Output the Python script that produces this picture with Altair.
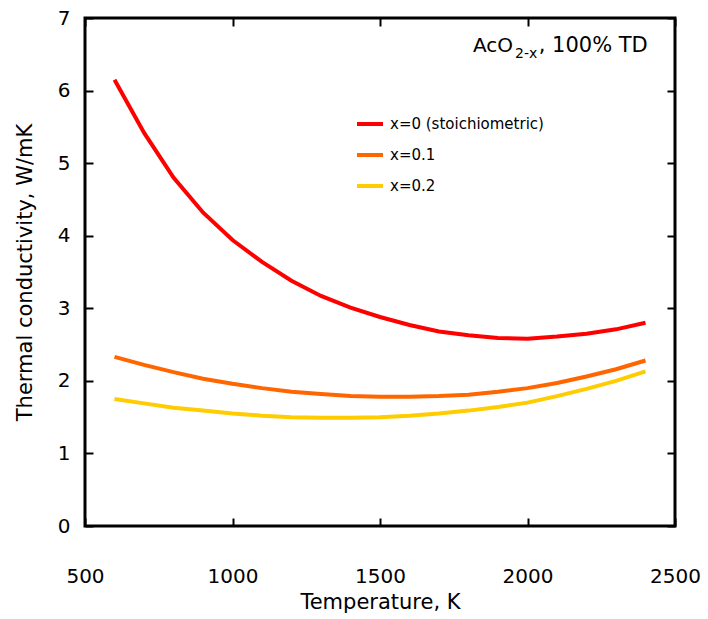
import altair as alt
import pandas as pd

# ---- data ----
temps = [600, 700, 800, 900, 1000, 1100, 1200, 1300, 1400, 1500,
         1600, 1700, 1800, 1900, 2000, 2100, 2200, 2300, 2400]
k_x0 = [6.15, 5.42, 4.80, 4.32, 3.94, 3.64, 3.38, 3.17, 3.01, 2.88,
        2.77, 2.68, 2.63, 2.59, 2.58, 2.61, 2.65, 2.71, 2.80]
k_x01 = [2.33, 2.22, 2.12, 2.03, 1.96, 1.90, 1.85, 1.82, 1.79, 1.78,
         1.78, 1.79, 1.81, 1.85, 1.90, 1.97, 2.06, 2.16, 2.28]
k_x02 = [1.75, 1.69, 1.63, 1.59, 1.55, 1.52, 1.50, 1.49, 1.49, 1.50,
         1.52, 1.55, 1.59, 1.64, 1.70, 1.79, 1.89, 2.00, 2.13]
series_names = ["x=0 (stoichiometric)", "x=0.1", "x=0.2"]
series_colors = ["#ff0000", "#ff6600", "#ffcc00"]
x_ticks = [500, 1000, 1500, 2000, 2500]
y_ticks = [0, 1, 2, 3, 4, 5, 6, 7]

ann_parts = ["AcO", "2-x", ", 100% TD"]
ann_x = [1815, 1958, 2038]
ann_y = [6.53, 6.45, 6.53]
ann_size = [20, 14, 21]

rows = []
for name, vals in zip(series_names, [k_x0, k_x01, k_x02]):
    for t, v in zip(temps, vals):
        rows.append({"T": t, "k": v, "series": name})
df = pd.DataFrame(rows)

FONT = "DejaVu Sans"
xscale = alt.Scale(domain=[500, 2500], nice=False, zero=False)
yscale = alt.Scale(domain=[0, 7], nice=False)

common = dict(grid=False, domain=False, ticks=True, tickSize=8, tickWidth=2,
              tickColor="black", offset=-8, labelFont=FONT, labelFontSize=20,
              labelColor="black", titleFont=FONT, titleFontSize=21,
              titleColor="black", titleFontWeight="normal", format="d")

x_bottom = alt.Axis(values=x_ticks, orient="bottom", title="Temperature, K",
                    labelPadding=40, titlePadding=5, labelFlush=False, **common)
y_left = alt.Axis(values=y_ticks, orient="left",
                  title="Thermal conductivity, W/mK",
                  labelPadding=15, titlePadding=22, **common)
x_top = alt.Axis(values=x_ticks, orient="top", labels=False, title=None, **common)
y_right = alt.Axis(values=y_ticks, orient="right", labels=False, title=None, **common)

lines = alt.Chart(df).mark_line(strokeWidth=4).encode(
    x=alt.X("T:Q", scale=xscale, axis=x_bottom),
    y=alt.Y("k:Q", scale=yscale, axis=y_left),
    color=alt.Color("series:N",
                    scale=alt.Scale(domain=series_names, range=series_colors),
                    legend=alt.Legend(title=None, orient="none", legendX=270,
                                      legendY=91, symbolType="stroke",
                                      symbolSize=676, symbolStrokeWidth=4,
                                      labelFont=FONT, labelFontSize=15,
                                      labelColor="black", labelOffset=5,
                                      rowPadding=8, padding=0)),
    detail="series:N",
)

mirror = alt.Chart(df).mark_point(opacity=0).encode(
    x=alt.X("T:Q", scale=xscale, axis=x_top),
    y=alt.Y("k:Q", scale=yscale, axis=y_right),
)

ann_df = pd.DataFrame({"t": ann_parts, "x": ann_x, "y": ann_y, "s": ann_size})
ann = alt.Chart(ann_df).mark_text(align="left", baseline="alphabetic",
                                  font=FONT, color="black").encode(
    x=alt.X("x:Q", scale=xscale, axis=None),
    y=alt.Y("y:Q", scale=yscale, axis=None),
    text="t:N",
    size=alt.Size("s:Q", scale=None, legend=None),
)

chart = alt.layer(lines, mirror, ann).resolve_axis(
    x="independent", y="independent"
).properties(
    width=590, height=508,
    autosize=alt.AutoSizeParams(type="none"),
    padding={"left": 85, "top": 18, "right": 33, "bottom": 93},
    background="white",
).configure_view(stroke="black", strokeWidth=3)

chart.save("out.html", embed_options={"renderer": "svg", "actions": False})
